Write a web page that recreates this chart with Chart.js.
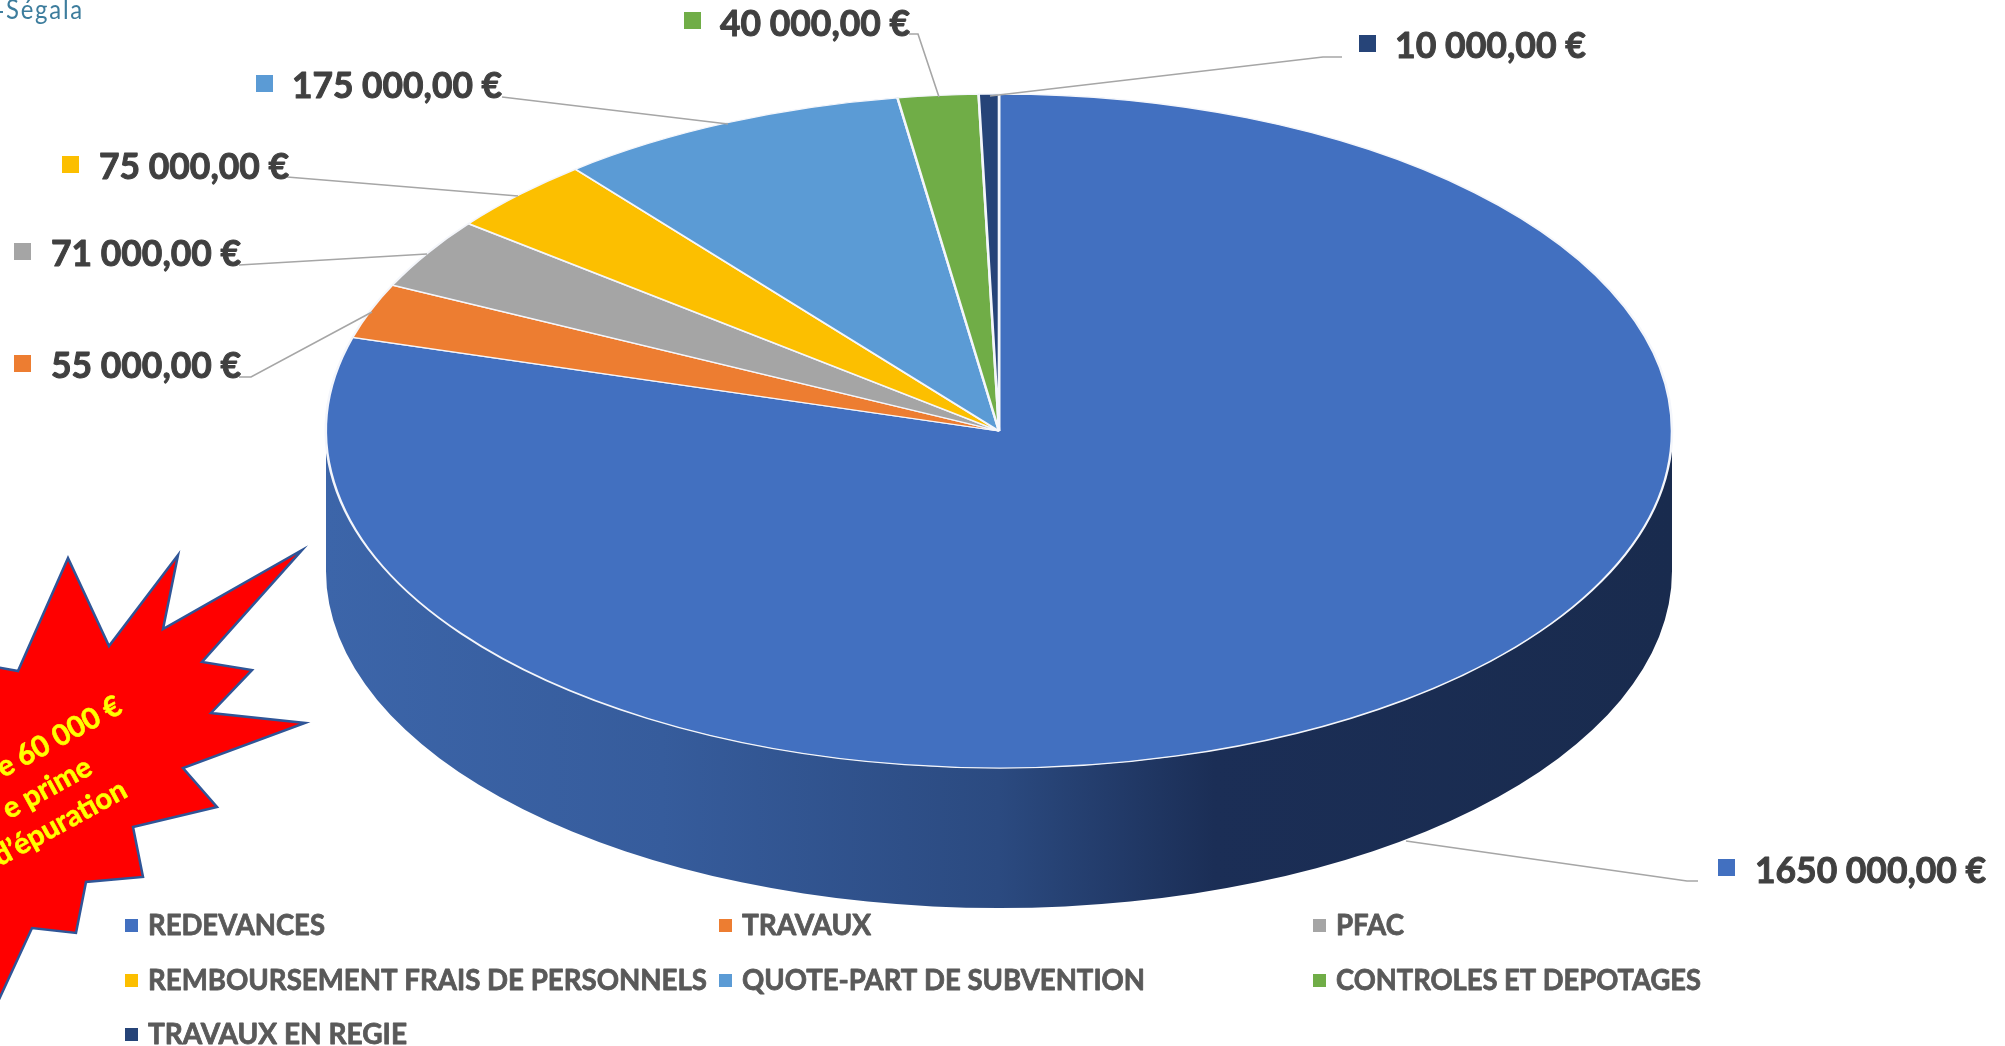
<!DOCTYPE html>
<html>
<head>
<meta charset="utf-8">
<style>html,body{margin:0;padding:0;background:#fff}canvas{display:block}</style>
<script src="https://cdn.jsdelivr.net/npm/chart.js@4/dist/chart.umd.js"></script>
</head>
<body>
<canvas id="c" width="2005" height="1046"></canvas>
<script>
const categories = ["REDEVANCES","TRAVAUX","PFAC","REMBOURSEMENT FRAIS DE PERSONNELS","QUOTE-PART DE SUBVENTION","CONTROLES ET DEPOTAGES","TRAVAUX EN REGIE"];
const values = [1650000,55000,71000,75000,175000,40000,10000];
const colors = ["#4270c0","#ed7d31","#a5a5a5","#fcbf00","#5b9bd5","#70ad47","#264478"];
const burstLines = ["e 60 000 €","e prime","d’épuration"];

const FONT = "Lato, Carlito, sans-serif";
const cx = 999, cy = 431, rx = 673, ry = 337, depth = 140;

// value label layout, in category order: text x, right end, baseline, square x, square y
const valuePos = [
  [1755,1986,883,1718,859],
  [51,241,378,14,355],
  [51,241,266,14,243],
  [99,289,179,62,156],
  [292,502,98,256,75],
  [720,910,36,684,12],
  [1395,1586,58,1359,35]
];
const leaders = [
  [[1406,841],[1687,881],[1698,881]],
  [[239,377],[251,377],[372,312]],
  [[239,265],[427,254]],
  [[287,177],[518,196]],
  [[502,97],[728,124]],
  [[909,34],[918,34],[939,97]],
  [[990,96],[1323,57],[1342,57]]
];
// legend layout: square x, text x, right end, baseline
const legendPos = [
  [125,148,325,935],[719,742,871,935],[1313,1336,1404,935],
  [125,148,707,990],[719,742,1145,990],[1313,1336,1701,990],
  [125,148,407,1044]
];
const burst = [[-4,667],[18,671],[68,558],[109,646],[178,555],[163,629],[302,550],[202,662],[252,670],[211,713],[305,723],[183,768],[217,807],[133,827],[143,877],[86,882],[76,933],[32,928],[-4,1006]];

function fmt(v){const s=String(v);return s.slice(0,-3)+" "+s.slice(-3)+",00 €";}

function heavyText(ctx,t,x,y,maxW,extra){
  ctx.lineWidth=extra;ctx.lineJoin="round";ctx.strokeStyle=ctx.fillStyle;
  if(maxW){ctx.strokeText(t,x,y,maxW);ctx.fillText(t,x,y,maxW);}
  else{ctx.strokeText(t,x,y);ctx.fillText(t,x,y);}
}

const pie3d = {
  id:"pie3d",
  beforeDatasetsDraw(chart){
    const ctx = chart.ctx;
    const g = ctx.createLinearGradient(cx-rx,0,cx+rx,0);
    g.addColorStop(0,"#3c65a9");
    g.addColorStop(0.25,"#365c9c");
    g.addColorStop(0.5,"#2b4a80");
    g.addColorStop(0.66,"#1b2e56");
    g.addColorStop(1,"#192b4e");
    ctx.save();
    ctx.beginPath();
    ctx.moveTo(cx-rx,cy);
    ctx.lineTo(cx-rx,cy+depth);
    ctx.ellipse(cx,cy+depth,rx,ry,0,Math.PI,0,true);
    ctx.lineTo(cx+rx,cy);
    ctx.ellipse(cx,cy,rx,ry,0,0,Math.PI,false);
    ctx.closePath();
    ctx.fillStyle=g;
    ctx.fill();
    ctx.restore();
    const a = chart.getDatasetMeta(0).data[0];
    ctx.save();
    ctx.translate(cx,cy);
    ctx.scale(rx/a.outerRadius,ry/a.outerRadius);
    ctx.translate(-a.x,-a.y);
  },
  afterDatasetsDraw(chart){
    const ctx = chart.ctx;
    ctx.restore();
    ctx.save();
    // leader lines
    ctx.strokeStyle="#a6a6a6";ctx.lineWidth=1.6;ctx.lineJoin="miter";
    leaders.forEach(l=>{ctx.beginPath();l.forEach((p,i)=>i?ctx.lineTo(p[0],p[1]):ctx.moveTo(p[0],p[1]));ctx.stroke();});
    // value labels
    ctx.textBaseline="alphabetic";ctx.textAlign="left";
    ctx.font="bold 37px "+FONT;
    values.forEach((v,i)=>{
      const p=valuePos[i];
      ctx.fillStyle=colors[i];ctx.fillRect(p[3],p[4],17,17);
      ctx.fillStyle="#404040";
      heavyText(ctx,fmt(v),p[0],p[2],p[1]-p[0],1);
    });
    // legend
    ctx.font="bold 29px "+FONT;
    categories.forEach((c,i)=>{
      const p=legendPos[i];
      ctx.fillStyle=colors[i];ctx.fillRect(p[0],p[3]-16,13,13);
      ctx.fillStyle="#595959";
      heavyText(ctx,c,p[1],p[3],p[2]-p[1],0.8);
    });
    // starburst callout
    ctx.beginPath();
    burst.forEach((p,i)=>i?ctx.lineTo(p[0],p[1]):ctx.moveTo(p[0],p[1]));
    ctx.closePath();
    ctx.fillStyle="#ff0000";ctx.fill();
    ctx.strokeStyle="#2f5597";ctx.lineWidth=2.5;ctx.lineJoin="miter";ctx.stroke();
    ctx.font="bold 29px "+FONT;ctx.textAlign="right";
    [[124,712],[94,773],[129,796]].forEach((p,i)=>{
      ctx.save();ctx.translate(p[0],p[1]);ctx.rotate(-28.7*Math.PI/180);
      ctx.fillStyle="#ffff00";
      heavyText(ctx,burstLines[i],0,0,0,0.6);
      ctx.restore();
    });
    // logo fragment
    ctx.fillStyle="#3d7d9d";ctx.font="27px "+FONT;ctx.textAlign="left";
    ctx.letterSpacing="2px";
    ctx.fillText("Ségala",6,19,78);
    ctx.letterSpacing="0px";
    ctx.fillRect(0,11,3,2);
    ctx.restore();
  }
};

new Chart(document.getElementById("c"),{
  type:"pie",
  data:{labels:categories,datasets:[{data:values,backgroundColor:colors,borderColor:"#f4f6fb",borderWidth:2,clip:false}]},
  options:{
    responsive:false,animation:false,
    layout:{padding:{left:0,right:7,top:0,bottom:0}},
    plugins:{legend:{display:false},tooltip:{enabled:false}}
  },
  plugins:[pie3d]
});
</script>
</body>
</html>
